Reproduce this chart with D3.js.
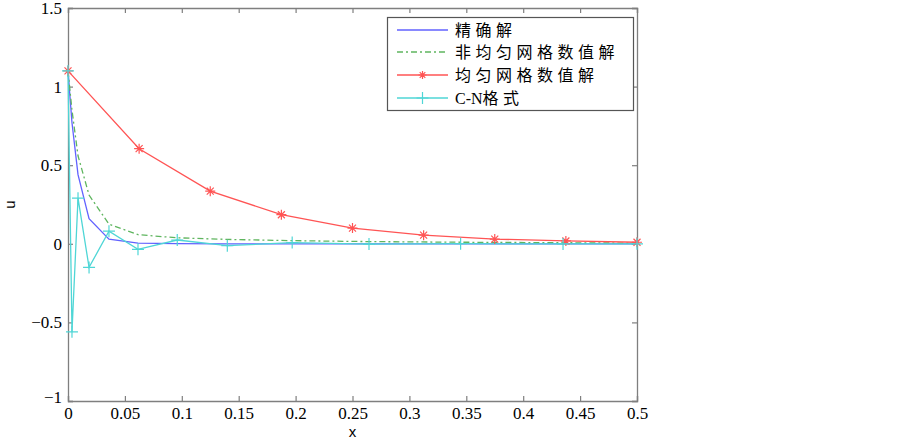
<!DOCTYPE html>
<html><head><meta charset="utf-8">
<script src="https://cdn.jsdelivr.net/npm/d3@7"></script>
<style>
body{margin:0;background:#fff;}
svg{display:block;}
.serif{font-family:"Liberation Serif","Times New Roman",Times,serif;}
</style></head>
<body><svg id="chart" width="903" height="440"></svg>
<script>
// Non-uniform grid (used by exact, non-uniform and C-N)
const xNonUniform = [0, 0.0035, 0.0088, 0.0185, 0.036, 0.0615, 0.096, 0.14, 0.197, 0.2645, 0.345, 0.435, 0.5];
const exactValues = [1.1, 0.77, 0.44, 0.16, 0.03, 0.004, 0.001, 0, 0, 0, 0, 0, 0];
const nonUniformValues = [1.1, 0.85, 0.56, 0.31, 0.125, 0.058, 0.038, 0.028, 0.02, 0.014, 0.01, 0.007, 0.004];
const cnValues = [1.1, -0.56, 0.29, -0.15, 0.08, -0.035, 0.024, -0.012, 0.008, -0.002, 0.001, -0.001, 0];
// Uniform grid
const xUniform = [0, 0.0625, 0.125, 0.1875, 0.25, 0.3125, 0.375, 0.4375, 0.5];
const uniformValues = [1.1, 0.605, 0.335, 0.185, 0.1, 0.055, 0.03, 0.018, 0.01];
const xTicks = [0, 0.05, 0.1, 0.15, 0.2, 0.25, 0.3, 0.35, 0.4, 0.45, 0.5];
const yTicks = [-1, -0.5, 0, 0.5, 1, 1.5];
const legendLabels = ["精确解", "非均匀网格数值解", "均匀网格数值解", "C-N格式"];

const svg = d3.select("#chart");
const L = 68, R = 637, T = 8, B = 401;
const x = d3.scaleLinear().domain([0, 0.5]).range([L, R]);
const y = d3.scaleLinear().domain([-1, 1.5]).range([B, T]);
const axisColor = "#7f7f7f";
const serif = "Liberation Serif, Times New Roman, Times, serif";

const colors = {exact: "#6262ff", nonu: "#5fb55f", uni: "#ff5454", cn: "#4fd6d6"};

const tickLen = 5;
const gBottom = svg.append("g").attr("transform", `translate(0,${B})`)
  .call(d3.axisBottom(x).tickValues(xTicks).tickSize(-tickLen).tickPadding(9).tickFormat(d3.format("")));
const gTop = svg.append("g").attr("transform", `translate(0,${T})`)
  .call(d3.axisTop(x).tickValues(xTicks).tickSize(-tickLen).tickFormat(""));
const gLeft = svg.append("g").attr("transform", `translate(${L},0)`)
  .call(d3.axisLeft(y).tickValues(yTicks).tickSize(-tickLen).tickPadding(6).tickFormat(d3.format("")));
const gRight = svg.append("g").attr("transform", `translate(${R},0)`)
  .call(d3.axisRight(y).tickValues(yTicks).tickSize(-tickLen).tickFormat(""));
[gBottom, gTop, gLeft, gRight].forEach(g => {
  g.attr("font-family", serif).attr("font-size", 17);
  g.select(".domain").attr("stroke", axisColor).attr("stroke-width", 1.3);
  g.selectAll(".tick line").attr("stroke", axisColor).attr("stroke-width", 1.2);
  g.selectAll(".tick text").attr("fill", "#000").attr("class", "serif").attr("font-size", 17);
});
gBottom.selectAll(".tick text").attr("dy", "0.55em");
gLeft.selectAll(".tick text").filter(d => d === -1).attr("dy", "0.1em");

// axis labels
svg.append("text").attr("x", (L + R) / 2).attr("y", 437).attr("text-anchor", "middle")
  .attr("font-family", "Liberation Sans, Arial, sans-serif").attr("font-size", 15).text("x");
svg.append("text").attr("transform", `translate(15,${(T + B) / 2}) rotate(-90)`).attr("text-anchor", "middle")
  .attr("font-family", "Liberation Sans, Arial, sans-serif").attr("font-size", 15).text("u");

const line = d3.line().x(d => x(d[0])).y(d => y(d[1]));
const plot = svg.append("g");

const exactData = d3.zip(xNonUniform, exactValues);
const nonuData = d3.zip(xNonUniform, nonUniformValues);
const uniData = d3.zip(xUniform, uniformValues);
const cnData = d3.zip(xNonUniform, cnValues);

plot.append("path").datum(exactData).attr("d", line).attr("fill", "none").attr("stroke", colors.exact).attr("stroke-width", 1.3);
plot.append("path").datum(nonuData).attr("d", line).attr("fill", "none").attr("stroke", colors.nonu).attr("stroke-width", 1.3).attr("stroke-dasharray", "6,3,2,3");
plot.append("path").datum(uniData).attr("d", line).attr("fill", "none").attr("stroke", colors.uni).attr("stroke-width", 1.3);
plot.append("path").datum(cnData).attr("d", line).attr("fill", "none").attr("stroke", colors.cn).attr("stroke-width", 1.3);

function star(g, cx, cy, s, c) {
  const p = `M${cx - s},${cy}L${cx + s},${cy}M${cx},${cy - s}L${cx},${cy + s}` +
    `M${cx - s * 0.7},${cy - s * 0.7}L${cx + s * 0.7},${cy + s * 0.7}M${cx - s * 0.7},${cy + s * 0.7}L${cx + s * 0.7},${cy - s * 0.7}`;
  g.append("path").attr("d", p).attr("stroke", c).attr("stroke-width", 1.2).attr("fill", "none");
}
function plus(g, cx, cy, s, c) {
  g.append("path").attr("d", `M${cx - s},${cy}L${cx + s},${cy}M${cx},${cy - s}L${cx},${cy + s}`)
    .attr("stroke", c).attr("stroke-width", 1.2).attr("fill", "none");
}
uniData.forEach(d => star(plot, x(d[0]), y(d[1]), 5, colors.uni));
cnData.forEach(d => plus(plot, x(d[0]), y(d[1]), 6, colors.cn));

// legend
const lg = svg.append("g");
lg.append("rect").attr("x", 387.5).attr("y", 17.5).attr("width", 246).attr("height", 93)
  .attr("fill", "#fff").attr("stroke", "#555").attr("stroke-width", 1.2);
const rowsY = [30, 52, 75, 98];
const styles = [
  {c: colors.exact, dash: null, m: null},
  {c: colors.nonu, dash: "6,3,2,3", m: null},
  {c: colors.uni, dash: null, m: "star"},
  {c: colors.cn, dash: null, m: "plus"}
];
legendLabels.forEach((t, i) => {
  const st = styles[i];
  const ly = rowsY[i];
  const ln = lg.append("line").attr("x1", 397).attr("x2", 448).attr("y1", ly).attr("y2", ly)
    .attr("stroke", st.c).attr("stroke-width", 1.3);
  if (st.dash) ln.attr("stroke-dasharray", st.dash);
  if (st.m === "star") star(lg, 422.5, ly, 4, st.c);
  if (st.m === "plus") plus(lg, 422.5, ly, 6, st.c);
  const txt = lg.append("text").attr("x", 455).attr("y", ly + 6)
    .attr("font-family", "Liberation Serif, Noto Sans CJK SC, serif").attr("font-size", 16);
  // Latin part tight, CJK part spaced
  const m = t.match(/^([A-Za-z\-]*)(.*)$/);
  if (m[1]) txt.append("tspan").attr("letter-spacing", 0).text(m[1]);
  txt.append("tspan").attr("letter-spacing", 4.5).text(m[2]);
});
</script>
</body></html>
